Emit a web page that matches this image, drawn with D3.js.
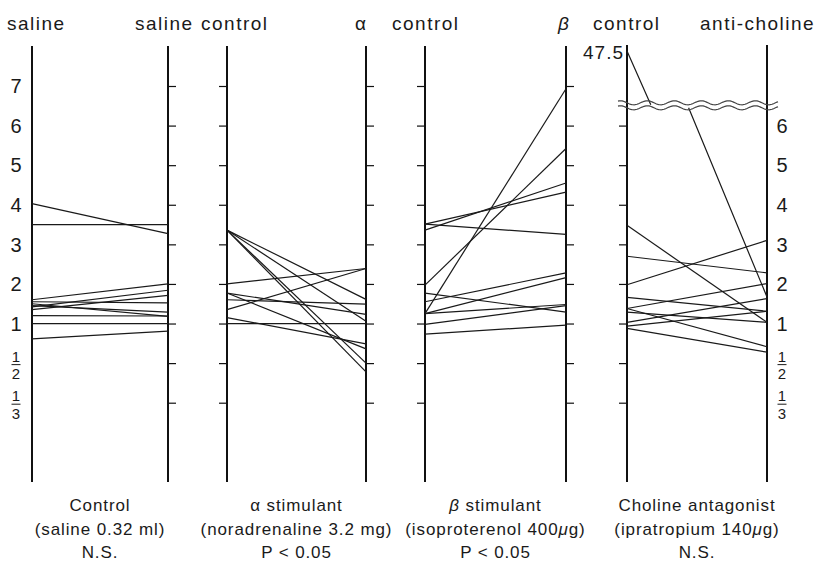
<!DOCTYPE html>
<html>
<head>
<meta charset="utf-8">
<script src="https://cdn.jsdelivr.net/npm/d3@7"></script>
<style>
  body { margin: 0; background: #fff; }
  svg text { font-family: "Liberation Sans", Arial, sans-serif; fill: #1a1a1a; }
</style>
</head>
<body>
<div id="chart"></div>
<script>
// ratio per subject, control (left axis) -> after drug (right axis)
const salineBefore  = [4.03, 3.5, 1.6, 1.42, 1.35, 1.55, 1.5, 1.45, 1.2, 1.0, 0.72];
const salineAfter   = [3.27, 3.5, 2.0, 1.84, 1.71, 1.52, 1.18, 1.29, 1.19, 1.0, 0.84];
const alphaBefore   = [3.36, 3.36, 3.36, 3.36, 2.0, 1.77, 1.77, 1.6, 1.35, 1.15, 1.0];
const alphaAfter    = [1.61, 1.06, 0.5, 0.45, 2.39, 1.23, 0.61, 1.49, 2.39, 0.66, 1.0];
const betaBefore    = [3.51, 3.51, 3.36, 1.97, 1.77, 1.55, 1.25, 1.25, 1.25, 0.98, 0.79];
const betaAfter     = [3.25, 4.32, 4.55, 5.42, 1.29, 2.28, 6.93, 2.16, 1.48, 1.45, 0.96];
const cholineBefore = [47.5, 3.48, 2.7, 1.98, 1.66, 1.38, 1.38, 1.29, 1.03, 0.94, 0.89];
const cholineAfter  = [1.67, 1.03, 2.28, 3.1, 1.31, 2.01, 0.63, 1.03, 1.63, 1.31, 0.58];

// tick values and their labels
const tickValues = [1/3, 1/2, 1, 2, 3, 4, 5, 6, 7];
const tickLabels = ["1/3", "1/2", "1", "2", "3", "4", "5", "6", "7"];
const breakValue = 6.5;   // scale break on the choline panel
const topValue = 47.5;

const headers  = [["saline", "saline"], ["control", "α"], ["control", "β"], ["control", "anti-choline"]];
const titles   = ["Control", "α stimulant", "β stimulant", "Choline antagonist"];
const doses    = ["(saline 0.32 ml)", "(noradrenaline 3.2 mg)", "(isoproterenol 400μg)", "(ipratropium 140μg)"];
const stats    = ["N.S.", "P < 0.05", "P < 0.05", "N.S."];

const panels = [
  { before: salineBefore, after: salineAfter },
  { before: alphaBefore, after: alphaAfter },
  { before: betaBefore, after: betaAfter },
  { before: cholineBefore, after: cholineAfter }
];

// layout
const panelX = [[32, 168], [227, 366], [425, 566], [627, 767]];
const headerX = [[7, 135], [201, 355], [392, 558], [593, 700]];
const axisTop = 46, axisBottom = 482;
const tickLen = 8;

//transform: linear above 1, reciprocal below 1
const tf = v => (v >= 1 ? v - 1 : 1 - 1 / v);
const yScale = d3.scaleLinear().domain([tf(1/3), tf(7)]).range([402.7, 86]);
const breakY = yScale(tf(breakValue));
const yUpper = d3.scaleLinear().domain([breakValue, topValue]).range([breakY, 51]);

const svg = d3.select("#chart").append("svg")
  .attr("width", 820).attr("height", 564);

// beta and mu are set in italic, alpha stays upright
function greekText(sel, str) {
  str.split(/([βμ])/).filter(s => s.length).forEach(part => {
    const t = sel.append("tspan").text(part);
    if (/[βμ]/.test(part)) t.attr("font-style", "italic");
  });
}

function drawLabels(g, x, vals) {
  const lab = g.selectAll("g.lab").data(vals).join("g")
    .attr("class", "lab")
    .attr("transform", d => `translate(${x},${yScale(tf(d))})`);
  lab.each(function (d) {
    const s = d3.select(this);
    const txt = tickLabels[tickValues.indexOf(d)];
    if (d >= 1) {
      s.append("text").attr("text-anchor", "middle").attr("dy", "0.36em")
        .attr("font-size", 20).text(txt);
    } else {
      const [num, den] = txt.split("/");
      s.append("text").attr("text-anchor", "middle").attr("y", -1.5)
        .attr("font-size", 15).text(num);
      s.append("line").attr("x1", -4.5).attr("x2", 4.5).attr("y1", 1.5).attr("y2", 1.5)
        .attr("stroke", "#1a1a1a").attr("stroke-width", 1);
      s.append("text").attr("text-anchor", "middle").attr("y", 16)
        .attr("font-size", 15).text(den);
    }
  });
}

panels.forEach((p, i) => {
  const [xl, xr] = panelX[i];
  const x = d3.scalePoint().domain(["before", "after"]).range([xl, xr]);
  const g = svg.append("g");
  const isChol = i === 3;
  const ticks = isChol ? tickValues.filter(v => v < 7) : tickValues;
  const top = isChol ? axisTop - 1 : axisTop;

  // axis lines
  [xl, xr].forEach(ax => {
    g.append("line").attr("x1", ax).attr("x2", ax).attr("y1", top).attr("y2", axisBottom)
      .attr("stroke", "#111").attr("stroke-width", 2);
  });

  // left axis
  if (i === 0) {
    drawLabels(g.append("g"), xl - 16, ticks);
  } else {
    const a = g.append("g").attr("transform", `translate(${xl},0)`)
      .call(d3.axisLeft(yScale).tickValues(ticks.map(tf)).tickSize(tickLen).tickFormat(""));
    a.select(".domain").remove();
    a.selectAll(".tick line").attr("stroke", "#111").attr("stroke-width", 1.2);
  }
  // right axis
  if (isChol) {
    drawLabels(g.append("g"), xr + 15, ticks);
  } else {
    const a = g.append("g").attr("transform", `translate(${xr},0)`)
      .call(d3.axisRight(yScale).tickValues(ticks.map(tf)).tickSize(tickLen).tickFormat(""));
    a.select(".domain").remove();
    a.selectAll(".tick line").attr("stroke", "#111").attr("stroke-width", 1.2);
  }

  // subject lines
  const pairs = p.before.map((b, k) => ({ b, a: p.after[k] }));
  const w = xr - xl;
  g.selectAll("path.subj").data(pairs).join("path")
    .attr("class", "subj")
    .attr("fill", "none").attr("stroke", "#1a1a1a").attr("stroke-width", 1.2)
    .attr("d", d => {
      if (d.b > breakValue) {
        const x1 = xl + w * 0.17, x2 = xl + w * 0.44;
        return `M${x("before")},${yUpper(d.b)}L${x1},${breakY - 1}` +
               `M${x2},${breakY + 2}L${x("after")},${yScale(tf(d.a))}`;
      }
      return d3.line()([[x("before"), yScale(tf(d.b))], [x("after"), yScale(tf(d.a))]]);
    });

  if (isChol) {
    // scale break: double wavy line
    const xs = d3.range(xl - 9, xr + 12, 1);
    const wave = off => d3.line()(xs.map(xx => [xx, breakY + off + 2 * Math.sin((xx - xl) / 27 * 2 * Math.PI)]));
    g.append("path").attr("d", wave(-3)).attr("fill", "none").attr("stroke", "#444").attr("stroke-width", 1.2);
    g.append("path").attr("d", wave(2)).attr("fill", "none").attr("stroke", "#444").attr("stroke-width", 1.2);
    g.append("text").attr("x", xl - 3).attr("y", yUpper(topValue) + 8)
      .attr("text-anchor", "end").attr("font-size", 19).attr("letter-spacing", 1)
      .text(String(topValue));
  }

  // headers
  headers[i].forEach((h, k) => {
    const t = g.append("text").attr("x", headerX[i][k]).attr("y", 30)
      .attr("font-size", 19).attr("letter-spacing", 1.5);
    greekText(t, h);
  });

  // captions
  const cx = (xl + xr) / 2;
  [titles[i], doses[i], stats[i]].forEach((s, k) => {
    const t = g.append("text").attr("x", cx).attr("y", [511, 535, 558][k])
      .attr("text-anchor", "middle").attr("font-size", 17).attr("letter-spacing", 0.9);
    greekText(t, s);
  });
});
</script>
</body>
</html>
